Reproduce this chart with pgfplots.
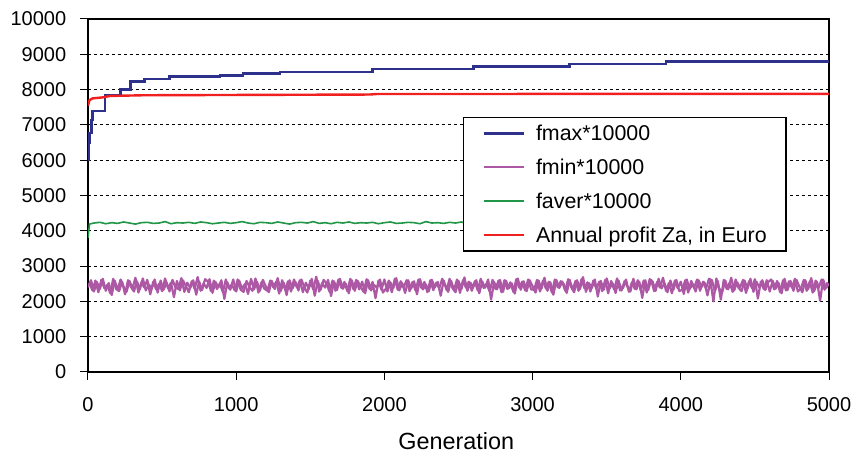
\documentclass[border=0pt]{standalone}
\usepackage{fontspec}
\setmainfont{Liberation Sans}
\usepackage{pgfplots}
\usepackage{pgfplotstable}
\pgfplotsset{compat=1.18}
\definecolor{cmax}{RGB}{46,49,140}
\definecolor{cmin}{RGB}{172,88,164}
\definecolor{cave}{RGB}{32,150,70}
\definecolor{cred}{RGB}{240,32,32}

\pgfplotstableread[row sep=\\]{
y\\
2400\\ 2600\\ 2280\\ 2550\\ 2350\\ 2640\\ 2300\\ 2520\\ 2180\\ 2590\\
2330\\ 2620\\ 2420\\ 2270\\ 2580\\ 2360\\ 2670\\ 2250\\ 2540\\ 2390\\
2610\\ 2200\\ 2560\\ 2340\\ 2500\\ 2290\\ 2650\\ 2370\\ 2530\\ 2120\\
2580\\ 2310\\ 2600\\ 2440\\ 2260\\ 2570\\ 2350\\ 2690\\ 2300\\ 2510\\
2380\\ 2630\\ 2240\\ 2550\\ 2400\\ 2600\\ 2070\\ 2540\\ 2330\\ 2620\\
2280\\ 2590\\ 2360\\ 2500\\ 2210\\ 2640\\ 2340\\ 2560\\ 2300\\ 2610\\
2420\\ 2260\\ 2580\\ 2350\\ 2660\\ 2290\\ 2530\\ 2180\\ 2600\\ 2370\\
2550\\ 2310\\ 2620\\ 2400\\ 2250\\ 2590\\ 2340\\ 2700\\ 2280\\ 2520\\
2390\\ 2610\\ 2150\\ 2570\\ 2320\\ 2640\\ 2360\\ 2500\\ 2230\\ 2600\\
2300\\ 2580\\ 2410\\ 2270\\ 2630\\ 2350\\ 2550\\ 2090\\ 2590\\ 2330\\
2620\\ 2280\\ 2540\\ 2380\\ 2660\\ 2310\\ 2510\\ 2240\\ 2600\\ 2360\\
2570\\ 2200\\ 2630\\ 2340\\ 2480\\ 2290\\ 2610\\ 2400\\ 2550\\ 2160\\
2590\\ 2320\\ 2640\\ 2370\\ 2260\\ 2580\\ 2350\\ 2680\\ 2300\\ 2530\\
2410\\ 2600\\ 2230\\ 2560\\ 2390\\ 2620\\ 2050\\ 2550\\ 2340\\ 2610\\
2270\\ 2590\\ 2370\\ 2510\\ 2220\\ 2650\\ 2330\\ 2570\\ 2290\\ 2600\\
2430\\ 2250\\ 2590\\ 2360\\ 2670\\ 2300\\ 2540\\ 2190\\ 2610\\ 2380\\
2560\\ 2300\\ 2630\\ 2410\\ 2260\\ 2600\\ 2350\\ 2690\\ 2270\\ 2520\\
2380\\ 2620\\ 2140\\ 2580\\ 2330\\ 2650\\ 2370\\ 2510\\ 2240\\ 2590\\
2310\\ 2570\\ 2420\\ 2280\\ 2640\\ 2340\\ 2560\\ 2100\\ 2600\\ 2320\\
2610\\ 2290\\ 2550\\ 2390\\ 2670\\ 2300\\ 2520\\ 2230\\ 2590\\ 2370\\
2560\\ 2210\\ 2620\\ 2350\\ 2490\\ 2280\\ 2600\\ 2410\\ 2540\\ 2170\\
2580\\ 2000\\ 2650\\ 2360\\ 2270\\ 2590\\ 2340\\ 2670\\ 2310\\ 2540\\
2400\\ 2610\\ 2240\\ 2570\\ 2380\\ 2630\\ 2080\\ 2560\\ 2350\\ 2600\\
2280\\ 2580\\ 2360\\ 2520\\ 2230\\ 2640\\ 2320\\ 2580\\ 2300\\ 2610\\
2420\\ 2260\\ 2600\\ 2350\\ 2660\\ 2290\\ 2550\\ 2020\\ 2620\\ 2380\\
2500\\
}\fminA

\pgfplotstableread[row sep=\\]{
y\\
2520\\ 2310\\ 2590\\ 2260\\ 2610\\ 2380\\ 2470\\ 2230\\ 2640\\ 2350\\
2290\\ 2560\\ 2200\\ 2600\\ 2410\\ 2280\\ 2570\\ 2340\\ 2650\\ 2310\\
2480\\ 2360\\ 2620\\ 2250\\ 2590\\ 2330\\ 2540\\ 2280\\ 2610\\ 2400\\
2350\\ 2660\\ 2270\\ 2530\\ 2380\\ 2600\\ 2190\\ 2560\\ 2320\\ 2630\\
2560\\ 2290\\ 2590\\ 2350\\ 2500\\ 2260\\ 2620\\ 2370\\ 2480\\ 2310\\
2620\\ 2330\\ 2270\\ 2580\\ 2400\\ 2300\\ 2650\\ 2250\\ 2540\\ 2360\\
2300\\ 2590\\ 2400\\ 2560\\ 2220\\ 2600\\ 2340\\ 2570\\ 2280\\ 2620\\
2390\\ 2600\\ 2260\\ 2530\\ 2350\\ 2640\\ 2160\\ 2580\\ 2330\\ 2610\\
2500\\ 2270\\ 2590\\ 2300\\ 2620\\ 2380\\ 2550\\ 2290\\ 2640\\ 2350\\
2610\\ 2340\\ 2560\\ 2230\\ 2600\\ 2310\\ 2470\\ 2380\\ 2620\\ 2250\\
2360\\ 2590\\ 2260\\ 2640\\ 2330\\ 2570\\ 2400\\ 2600\\ 2290\\ 2550\\
2310\\ 2620\\ 2380\\ 2550\\ 2260\\ 2600\\ 2320\\ 2530\\ 2370\\ 2640\\
2450\\ 2270\\ 2580\\ 2330\\ 2620\\ 2240\\ 2600\\ 2390\\ 2560\\ 2300\\
2570\\ 2310\\ 2640\\ 2380\\ 2500\\ 2280\\ 2610\\ 2350\\ 2590\\ 2260\\
2600\\ 2350\\ 2540\\ 2270\\ 2630\\ 2390\\ 2560\\ 2310\\ 2620\\ 2340\\
2330\\ 2610\\ 2280\\ 2590\\ 2360\\ 2560\\ 2250\\ 2620\\ 2400\\ 2570\\
2490\\ 2240\\ 2610\\ 2330\\ 2580\\ 2300\\ 2630\\ 2370\\ 2540\\ 2280\\
2590\\ 2360\\ 2560\\ 2290\\ 2610\\ 2230\\ 2580\\ 2340\\ 2650\\ 2310\\
2380\\ 2620\\ 2270\\ 2540\\ 2350\\ 2600\\ 2310\\ 2590\\ 2250\\ 2630\\
2560\\ 2300\\ 2640\\ 2370\\ 2520\\ 2260\\ 2590\\ 2330\\ 2610\\ 2290\\
2330\\ 2600\\ 2250\\ 2580\\ 2390\\ 2620\\ 2300\\ 2560\\ 2360\\ 2640\\
2600\\ 2280\\ 2570\\ 2050\\ 2610\\ 2350\\ 2530\\ 2270\\ 2620\\ 2380\\
2290\\ 2590\\ 2360\\ 2640\\ 2270\\ 2560\\ 2400\\ 2600\\ 2320\\ 2550\\
2620\\ 2340\\ 2580\\ 2260\\ 2600\\ 2310\\ 2570\\ 2390\\ 2640\\ 2280\\
2360\\ 2610\\ 2300\\ 2560\\ 2250\\ 2590\\ 2380\\ 2620\\ 2330\\ 2540\\
}\fminB

\pgfplotstableread[row sep=\\]{
y\\
4220\\ 4240\\ 4200\\ 4230\\ 4210\\ 4250\\ 4220\\ 4190\\ 4230\\ 4240\\
4210\\ 4220\\ 4260\\ 4200\\ 4230\\ 4220\\ 4240\\ 4210\\ 4250\\ 4230\\
4200\\ 4220\\ 4240\\ 4210\\ 4230\\ 4260\\ 4220\\ 4200\\ 4240\\ 4230\\
4210\\ 4250\\ 4220\\ 4190\\ 4230\\ 4240\\ 4220\\ 4260\\ 4210\\ 4230\\
4200\\ 4240\\ 4220\\ 4250\\ 4210\\ 4230\\ 4220\\ 4240\\ 4200\\ 4230\\
4250\\ 4210\\ 4220\\ 4240\\ 4230\\ 4200\\ 4260\\ 4220\\ 4230\\ 4210\\
4240\\ 4220\\ 4250\\ 4200\\ 4230\\ 4240\\ 4210\\ 4220\\ 4260\\ 4230\\
4210\\ 4240\\ 4220\\ 4200\\ 4250\\ 4230\\ 4220\\ 4240\\ 4210\\ 4230\\
4260\\ 4220\\ 4200\\ 4240\\ 4230\\ 4210\\ 4250\\ 4220\\ 4240\\ 4230\\
4200\\ 4220\\ 4250\\ 4210\\ 4240\\ 4230\\ 4220\\ 4260\\ 4210\\ 4230\\
4240\\ 4200\\ 4220\\ 4250\\ 4230\\ 4210\\ 4240\\ 4220\\ 4230\\ 4210\\
4250\\ 4220\\ 4240\\ 4200\\ 4230\\
}\faverraw

\begin{document}
\begin{tikzpicture}
\begin{axis}[
  scale only axis,
  width=370.5pt, height=176.5pt,
  xmin=0, xmax=5000, ymin=0, ymax=10000,
  xtick={0,1000,...,5000}, ytick={0,1000,...,10000},
  xtick pos=bottom, ytick pos=left,
  tick align=outside,
  major tick length=4pt,
  every tick/.style={black, line width=0.5pt},
  axis line style={black, line width=1pt},
  ymajorgrids,
  grid style={black, line width=0.5pt, dash pattern=on 1.5pt off 1.5pt},
  scaled ticks=false,
  /pgf/number format/assume math mode=true,
  /pgf/number format/1000 sep={},
  ticklabel style={font=\fontsize{10}{12}\selectfont},
  yticklabel style={anchor=east, inner sep=0pt, xshift=-6.7pt},
  xticklabel style={anchor=north, inner sep=0pt, yshift=-8.5pt},
  xlabel={Generation},
  xlabel style={font=\fontsize{11.7}{14}\selectfont, at={(axis description cs:0.497,0)}, anchor=base, yshift=-39pt},
  legend cell align=left,
  legend image code/.code={\draw[#1] (9pt,0pt) -- (29pt,0pt);},
  legend style={
    at={(axis description cs:0.5057,0.7232)}, anchor=north west,
    draw=black, line width=0.7pt, fill=white,
    font=\fontsize{10.7}{12}\selectfont,
    inner xsep=9.5pt, inner ysep=4.1pt,
    nodes={inner sep=0pt, text height=7.6pt, text depth=0pt},
    row sep=9.4pt,
    /tikz/every odd column/.append style={column sep=5.5pt},
  },
]
\addplot[cmax, line width=1.3pt, const plot] coordinates {
(0,6000)(5,6500)(10,6770)(25,7140)(30,7390)(115,7850)(220,8010)(285,8225)(380,8300)
(550,8370)(890,8400)(1045,8460)(1295,8500)(1920,8580)(2600,8650)(3250,8730)(3900,8790)(5000,8790)};
\addlegendentry{fmax*10000}
\addplot[cmin, line width=1.1pt, line join=round] table[x expr=\coordindex*20, y=y] {\fminA};
\addlegendentry{fmin*10000}
\addplot[cave, line width=0.8pt] table[x expr=40+\coordindex*40, y=y] {\faverraw};
\addlegendentry{faver*10000}
\addplot[cred, line width=1.2pt] coordinates {
(0,7550)(10,7700)(30,7750)(100,7780)(150,7820)(380,7840)(1900,7860)(1950,7875)(5000,7880)};
\addlegendentry{Annual profit Za, in Euro}
\addplot[cmin, line width=1.1pt, line join=round, forget plot] table[x expr=10+\coordindex*20, y=y] {\fminB};
\addplot[cave, line width=0.8pt, forget plot] coordinates {(0,3800)(10,4190)(40,4220)};
\end{axis}
\pgfresetboundingbox
\path (-44pt,-41pt) rectangle (384.5pt,186pt);
\end{tikzpicture}
\end{document}
